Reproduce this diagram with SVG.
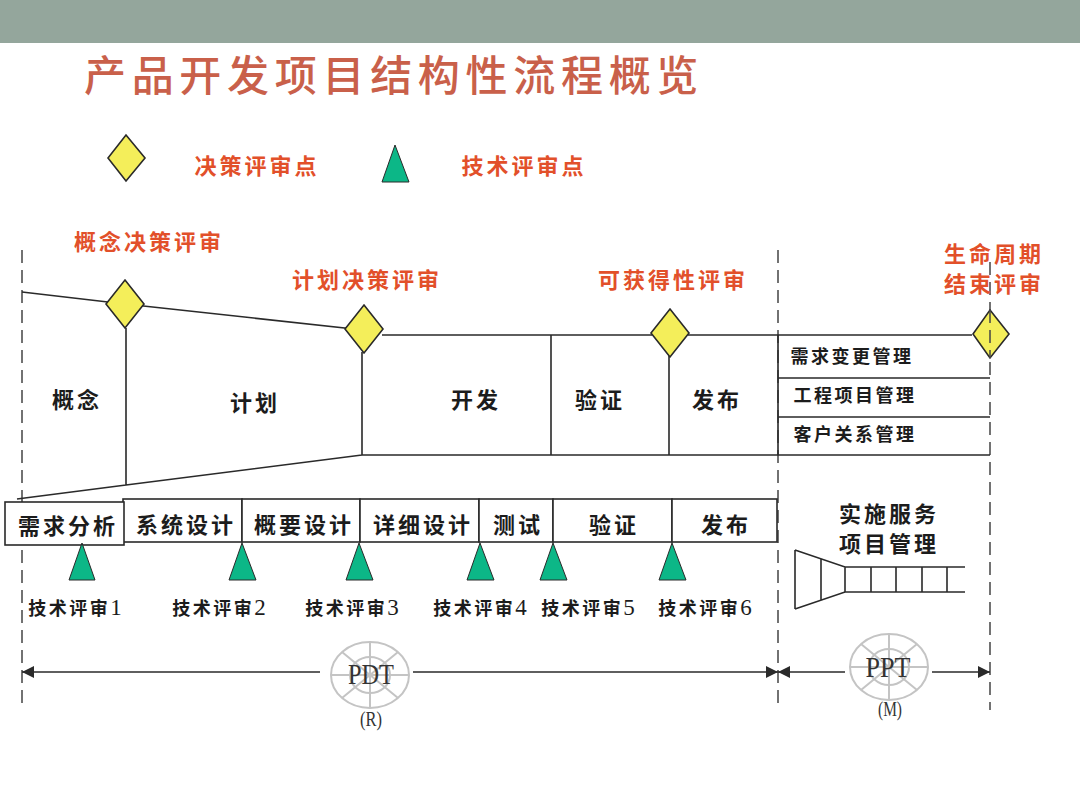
<svg xmlns="http://www.w3.org/2000/svg" width="1080" height="808" viewBox="0 0 1080 808">
<style>
text{font-family:"Noto Sans CJK SC","Liberation Serif",serif;font-weight:700;text-anchor:middle;fill:#1c1c1c;letter-spacing:3px}
.red{fill:#e2502a;font-size:22px}
.k{font-size:22px}
.s{font-size:18px;letter-spacing:2.5px}
.n{font-family:"Liberation Serif",serif;font-weight:400;font-size:23px;letter-spacing:0}
.l{fill:none;stroke:#2a2a2a;stroke-width:1.6}
.d{fill:none;stroke:#444;stroke-width:1.5;stroke-dasharray:13 7}
.dia{fill:#f4ee5a;stroke:#2a2a2a;stroke-width:1.6}
.tri{fill:#0cb787;stroke:#2a2a2a;stroke-width:1}
.box{fill:#fff;stroke:#2a2a2a;stroke-width:1.6}
.g{fill:none;stroke:#c4c4c4;stroke-width:2}
.lat{font-family:"Liberation Serif",serif;font-weight:400;letter-spacing:0;fill:#333}
</style>
<defs>
<marker id="a" markerWidth="13" markerHeight="12" refX="12" refY="6" orient="auto-start-reverse" markerUnits="userSpaceOnUse"><path d="M0 0L12 6L0 12Z" fill="#2a2a2a"/></marker>
<g id="wheel"><ellipse rx="39" ry="33" class="g"/><ellipse rx="20" ry="18" class="g"/><path class="g" d="M-39 0H39M0-33V33M-28-23L28 23M28-23L-28 23"/></g>
</defs>
<rect width="1080" height="43" fill="#94a69c"/>
<text x="394" y="91" style="font-size:42px;font-weight:500;fill:#c9604a;letter-spacing:5.7px;font-family:'Noto Sans CJK SC',sans-serif">产品开发项目结构性流程概览</text>

<g id="connectors">
<path class="d" d="M22 250V708M778 250V708M990 262V710"/>
<path class="l" d="M22 292L125 304L363 330M382 335H652M688 335H972M126 328V485M362 352V455M551 335V455M669 355V455M778 335V455M362 455H990M778 378H990M778 417H990M17 499L126 485L362 455"/>
<path class="l" d="M795 550L845 567H965M795 609L845 592H965M795 550V609M821 559V600M845 567V592M871 567V592M896 567V592M922 567V592M947 567V592"/>
<path class="l" marker-start="url(#a)" d="M22 672H320"/>
<path class="l" marker-end="url(#a)" d="M413 672H778"/>
<path class="l" marker-start="url(#a)" d="M778 672H845"/>
<path class="l" marker-end="url(#a)" d="M932 672H990"/>
</g>

<g id="legend-decision"><polygon class="dia" points="126,135 145,158 126,181 108,158"/><text class="red" x="257" y="174">决策评审点</text></g>
<g id="legend-tech"><polygon class="tri" points="395,145 409,182 382,182"/><text class="red" x="524" y="174">技术评审点</text></g>

<g id="dcp1"><polygon class="dia" points="125,280 144,304 125,328 106,304"/><text class="red" x="149" y="250">概念决策评审</text></g>
<g id="dcp2"><polygon class="dia" points="364,305 383,329 364,353 345,329"/><text class="red" x="367" y="288">计划决策评审</text></g>
<g id="dcp3"><polygon class="dia" points="670,309 689,333 670,357 651,333"/><text class="red" x="673" y="288">可获得性评审</text></g>
<g id="dcp4"><polygon class="dia" points="990,310 1009,334 990,358 973,334"/><path class="d" d="M990 310V358"/><text class="red" x="994" y="262">生命周期</text><text class="red" x="994" y="292">结束评审</text></g>

<g id="p1"><text class="k" x="77" y="408">概念</text></g>
<g id="p2"><text class="k" x="255" y="411">计划</text></g>
<g id="p3"><text class="k" x="476" y="408">开发</text></g>
<g id="p4"><text class="k" x="600" y="408">验证</text></g>
<g id="p5"><text class="k" x="717" y="408">发布</text></g>
<g id="m1"><text class="s" x="852" y="363">需求变更管理</text></g>
<g id="m2"><text class="s" x="855" y="402">工程项目管理</text></g>
<g id="m3"><text class="s" x="855" y="441">客户关系管理</text></g>

<g id="b2"><rect class="box" x="123" y="499" width="119" height="43"/><text class="k" x="186" y="533">系统设计</text></g>
<g id="b3"><rect class="box" x="242" y="499" width="118" height="43"/><text class="k" x="304" y="533">概要设计</text></g>
<g id="b4"><rect class="box" x="360" y="499" width="119" height="43"/><text class="k" x="423" y="533">详细设计</text></g>
<g id="b5"><rect class="box" x="479" y="499" width="74" height="43"/><text class="k" x="518" y="533">测试</text></g>
<g id="b6"><rect class="box" x="553" y="499" width="119" height="43"/><text class="k" x="614" y="533">验证</text></g>
<g id="b7"><rect class="box" x="672" y="499" width="105" height="43"/><text class="k" x="726" y="533">发布</text></g>
<g id="b1"><rect class="box" x="5" y="502" width="119" height="43"/><text class="k" x="68" y="534">需求分析</text></g>

<g id="t1"><polygon class="tri" points="82,543 95,580 69,580"/><text class="s" x="75" y="615">技术评审<tspan class="n">1</tspan></text></g>
<g id="t2"><polygon class="tri" points="242,543 256,580 229,580"/><text class="s" x="219" y="615">技术评审<tspan class="n">2</tspan></text></g>
<g id="t3"><polygon class="tri" points="359,543 373,580 346,580"/><text class="s" x="352" y="615">技术评审<tspan class="n">3</tspan></text></g>
<g id="t4"><polygon class="tri" points="480,543 494,580 467,580"/><text class="s" x="480" y="615">技术评审<tspan class="n">4</tspan></text></g>
<g id="t5"><polygon class="tri" points="553,543 567,580 540,580"/><text class="s" x="588" y="615">技术评审<tspan class="n">5</tspan></text></g>
<g id="t6"><polygon class="tri" points="672,543 686,580 659,580"/><text class="s" x="705" y="615">技术评审<tspan class="n">6</tspan></text></g>

<g id="ppm"><text class="k" x="889" y="522">实施服务</text><text class="k" x="889" y="552">项目管理</text></g>
<g id="pdt"><use href="#wheel" x="370" y="675"/><text class="lat" x="371" y="684" font-size="29" textLength="46" lengthAdjust="spacingAndGlyphs">PDT</text><text class="lat" x="371" y="726" font-size="21" textLength="22" lengthAdjust="spacingAndGlyphs">(R)</text></g>
<g id="ppt"><use href="#wheel" x="889" y="667"/><text class="lat" x="888" y="677" font-size="29" textLength="45" lengthAdjust="spacingAndGlyphs">PPT</text><text class="lat" x="890" y="716" font-size="21" textLength="24" lengthAdjust="spacingAndGlyphs">(M)</text></g>
</svg>
